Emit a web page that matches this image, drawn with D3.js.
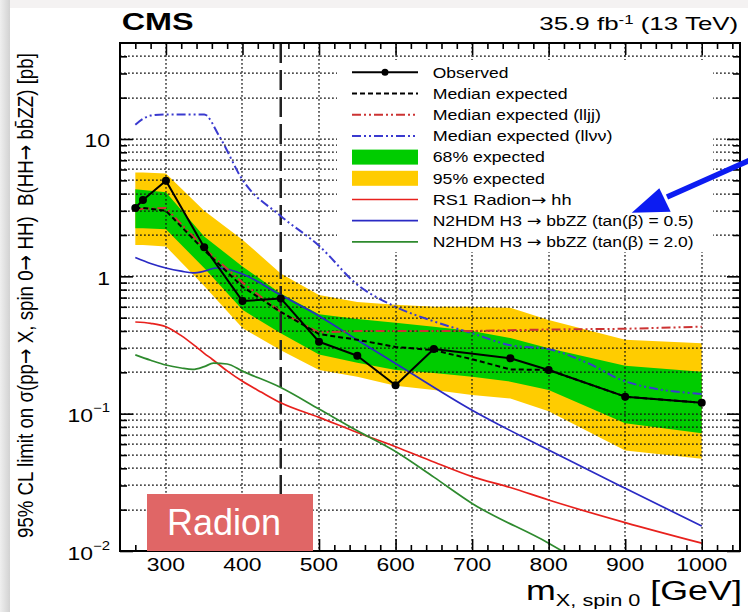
<!DOCTYPE html>
<html>
<head>
<meta charset="utf-8">
<script src="https://cdn.jsdelivr.net/npm/d3@7"></script>
<style>
  html, body { margin: 0; padding: 0; background: #fff; }
  svg { display: block; font-family: "Liberation Sans", Arial, Helvetica, sans-serif; }
  text { white-space: pre; }
</style>
</head>
<body>
<svg id="chart" width="748" height="612"></svg>
<script>
// ---------------- data ----------------
// Observed limit (pb) at each generated mass point
const massObs  = [260, 270, 300, 350, 400, 450, 500, 550, 600, 650, 750, 800, 900, 1000];
const observed = [3.15, 3.6, 4.97, 1.63, 0.66, 0.69, 0.334, 0.264, 0.161, 0.296, 0.253, 0.208, 0.133, 0.120];

// Expected limit and its 68% / 95% bands
const massExp   = [260, 270, 300, 350, 400, 450, 500, 550, 600, 650, 700, 750, 800, 900, 1000];
const expMedian = [3.15, 3.15, 3.0, 1.55, 0.84, 0.55, 0.38, 0.345, 0.306, 0.29, 0.249, 0.21, 0.208, 0.133, 0.12];
const exp95Up   = [5.7, 5.7, 5.6, 3.0, 1.85, 1.05, 0.73, 0.65, 0.62, 0.60, 0.60, 0.59, 0.48, 0.345, 0.325];
const exp68Up   = [4.3, 4.25, 4.1, 1.95, 1.18, 0.75, 0.53, 0.49, 0.46, 0.43, 0.40, 0.355, 0.30, 0.223, 0.202];
const exp68Down = [2.24, 2.24, 2.2, 1.15, 0.57, 0.385, 0.27, 0.235, 0.208, 0.198, 0.186, 0.171, 0.149, 0.085, 0.072];
const exp95Down = [1.69, 1.69, 1.65, 0.85, 0.42, 0.29, 0.208, 0.186, 0.16, 0.149, 0.137, 0.129, 0.104, 0.054, 0.047];
const expLljj   = [3.05, 3.1, 3.15, 1.6, 0.9, 0.55, 0.39, 0.40, 0.40, 0.40, 0.40, 0.405, 0.41, 0.415, 0.43];

// Expected limit of the llvv channel alone
const massLlvv = [260, 270, 280, 300, 350, 370, 400, 450, 500, 550, 600, 650, 700, 750, 800, 850, 900, 1000];
const expLlvv  = [12.7, 14.0, 14.8, 15.1, 15.1, 10.4, 5.05, 2.75, 1.67, 0.87, 0.60, 0.47, 0.385, 0.315, 0.295, 0.235, 0.172, 0.139];

// Theory predictions
const massRad    = [260, 280, 300, 320, 340, 350, 360, 380, 400, 425, 450, 500, 550, 600, 650, 700, 750, 800, 900, 1000];
const radionXsec = [0.465, 0.455, 0.43, 0.37, 0.305, 0.275, 0.25, 0.205, 0.172, 0.143, 0.12, 0.094, 0.073, 0.0575, 0.0445, 0.0348, 0.029, 0.0235, 0.0161, 0.0114];

const massTb05  = [260, 280, 300, 320, 335, 350, 365, 380, 400, 450, 500, 550, 600, 700, 800, 900, 1000];
const n2hdmTb05 = [1.37, 1.24, 1.15, 1.09, 1.06, 1.09, 1.15, 1.13, 1.04, 0.73, 0.515, 0.344, 0.232, 0.106, 0.0544, 0.0286, 0.0152];

const massTb20  = [260, 280, 300, 320, 335, 350, 362, 380, 400, 450, 500, 550, 600, 650, 700, 800, 850];
const n2hdmTb20 = [0.268, 0.245, 0.226, 0.215, 0.21, 0.22, 0.233, 0.23, 0.204, 0.155, 0.108, 0.075, 0.053, 0.0345, 0.0222, 0.0114, 0.0078];

// Boundary between the two analysis regimes
const regimeSplit = 450;

// Axis ticks and labels
const xMajorTicks = [300, 400, 500, 600, 700, 800, 900, 1000];
const xTickLabels = ["300", "400", "500", "600", "700", "800", "900", "1000"];
const yMajorTicks = [0.01, 0.1, 1, 10];
const yTickLabels = [["10", "\u22122"], ["10", "\u22121"], ["1"], ["10"]];

const legendLabels = [
  "Observed", "Median expected", "Median expected (lljj)", "Median expected (ll\u03bd\u03bd)",
  "68% expected", "95% expected", "RS1 Radion\u2192 hh",
  "N2HDM H3 \u2192 bbZZ (tan(\u03b2) = 0.5)", "N2HDM H3 \u2192 bbZZ (tan(\u03b2) = 2.0)"
];
const legendWidths = [75.7, 135, 168.3, 180, 112.3, 112.3, 139, 261.3, 261.3];

// ---------------- styles ----------------
const C = {
  yellow: "#ffcc00", green: "#00cc00",
  radion: "#e8211d", tb05: "#2a2ac4", tb20: "#2e8a2e",
  lljj: "#cc3333", llvv: "#3a3acf", arrow: "#0c1cf2", tag: "#e06666"
};
const DASH_MED = "5,3";
const DASH_DOTDOT = "9,3,2,3,2,3";
const ARROW_FONT = "DejaVu Sans";

// ---------------- setup ----------------
const W = 748, H = 612;
const P = { left: 120, top: 43, right: 740, bottom: 551 };
const svg = d3.select("#chart");

const x = d3.scaleLinear().domain([240, 1050]).range([P.left, P.right]);
const y = d3.scaleLog().domain([0.01, 50]).range([P.bottom, P.top]);

// Split a string so that arrows get a font with a long arrow glyph.
function arrowParts(str, extra) {
  const out = [];
  str.split("\u2192").forEach((s, i) => {
    if (i > 0) out.push(Object.assign({ t: "\u2192", font: ARROW_FONT }, extra || {}));
    if (s) out.push(Object.assign({ t: s }, extra || {}));
  });
  return out;
}

// Text helper: builds text from parts (with super/subscripts) and stretches
// it horizontally to a given width (or scale factor).
function richText(parent, parts, o) {
  const g = parent.append("g")
    .attr("transform", `translate(${o.x},${o.y})` + (o.rotate ? ` rotate(${o.rotate})` : ""));
  const t = g.append("text")
    .attr("font-size", o.size)
    .attr("font-weight", o.weight || "normal")
    .attr("fill", o.fill || "#000");
  let shift = 0;
  parts.forEach(p => {
    const ts = t.append("tspan").text(p.t);
    const target = p.sup ? -p.rise : (p.sub ? p.drop : 0);
    if (target !== shift) { ts.attr("dy", target - shift); shift = target; }
    if (p.size) ts.attr("font-size", p.size);
    if (p.font) ts.attr("font-family", p.font);
  });
  const w = t.node().getComputedTextLength();
  const sx = o.width ? o.width / w : (o.sx || 1);
  const total = w * sx;
  const off = o.anchor === "end" ? -total : (o.anchor === "middle" ? -total / 2 : 0);
  t.attr("transform", `translate(${off},0) scale(${sx},${o.sy || 1})`);
  return t;
}

// ---------------- page background ----------------
const defs = svg.append("defs");
const lg = defs.append("linearGradient").attr("id", "edge").attr("x1", 0).attr("x2", 1).attr("y1", 0).attr("y2", 0);
lg.append("stop").attr("offset", 0).attr("stop-color", "#efefef");
lg.append("stop").attr("offset", 1).attr("stop-color", "#d2d2d2");
defs.append("clipPath").attr("id", "plotClip").append("rect")
  .attr("x", P.left).attr("y", P.top).attr("width", P.right - P.left).attr("height", P.bottom - P.top);

svg.append("rect").attr("width", W).attr("height", H).attr("fill", "#f4f2f2");
svg.append("rect").attr("x", 0).attr("y", 0).attr("width", 10).attr("height", H).attr("fill", "url(#edge)");
svg.append("rect").attr("x", 10).attr("y", 8).attr("width", W - 10).attr("height", H - 8).attr("fill", "#fff");

// ---------------- plot body ----------------
const body = svg.append("g").attr("clip-path", "url(#plotClip)");

const bandRows = massExp.map((m, i) => ({
  m, lo95: exp95Down[i], hi95: exp95Up[i], lo68: exp68Down[i], hi68: exp68Up[i]
}));
body.append("path").datum(bandRows).attr("fill", C.yellow)
  .attr("d", d3.area().x(d => x(d.m)).y0(d => y(d.lo95)).y1(d => y(d.hi95)));
body.append("path").datum(bandRows).attr("fill", C.green)
  .attr("d", d3.area().x(d => x(d.m)).y0(d => y(d.lo68)).y1(d => y(d.hi68)));

// dotted grid
const yGrid = [];
[0.01, 0.1, 1, 10].forEach(dec => d3.range(1, 10).forEach(k => {
  const v = +(k * dec).toPrecision(3);
  if (v > 0.01 && v < 50) yGrid.push(v);
}));
const grid = body.append("g").attr("stroke", "#111").attr("stroke-width", 1.25)
  .attr("stroke-dasharray", "1.8,2.2");
grid.selectAll(".gh").data(yGrid).join("line")
  .attr("x1", P.left).attr("x2", P.right).attr("y1", d => Math.round(y(d))).attr("y2", d => Math.round(y(d)));
grid.selectAll(".gv").data(xMajorTicks).join("line")
  .attr("x1", d => Math.round(x(d))).attr("x2", d => Math.round(x(d))).attr("y1", P.top).attr("y2", P.bottom);

// legend backdrop
const LEG = { x0: 337, x1: 713, y0: 60, y1: 252, symL: 352, symR: 418, text: 432.7, row0: 72.3, step: 21.2 };
svg.append("rect").attr("x", LEG.x0).attr("y", LEG.y0)
  .attr("width", LEG.x1 - LEG.x0).attr("height", LEG.y1 - LEG.y0).attr("fill", "#fff");

// regime boundary
body.append("line").attr("x1", x(regimeSplit)).attr("x2", x(regimeSplit))
  .attr("y1", P.top).attr("y2", P.bottom)
  .attr("stroke", "#222").attr("stroke-width", 2.5).attr("stroke-dasharray", "20,7");

const curves = body.append("g").attr("fill", "none");
function drawCurve(ms, vs, color, width, dash, curve) {
  const pts = ms.map((m, i) => [x(m), y(vs[i])]);
  curves.append("path").attr("d", d3.line().curve(curve || d3.curveLinear)(pts))
    .attr("stroke", color).attr("stroke-width", width)
    .attr("stroke-dasharray", dash || null).attr("stroke-linejoin", "round");
}
drawCurve(massRad, radionXsec, C.radion, 1.7, null, d3.curveMonotoneX);
drawCurve(massTb20, n2hdmTb20, C.tb20, 1.7, null, d3.curveMonotoneX);
drawCurve(massTb05, n2hdmTb05, C.tb05, 1.7, null, d3.curveMonotoneX);
drawCurve(massLlvv, expLlvv, C.llvv, 2, DASH_DOTDOT, d3.curveMonotoneX);
drawCurve(massExp, expLljj, C.lljj, 2, DASH_DOTDOT);
drawCurve(massExp, expMedian, "#000", 2, DASH_MED);
drawCurve(massObs, observed, "#000", 2);
curves.selectAll("circle").data(massObs).join("circle")
  .attr("cx", d => x(d)).attr("cy", (d, i) => y(observed[i])).attr("r", 4).attr("fill", "#000");

// ---------------- frame and ticks ----------------
const xMinor = d3.range(260, 1050, 20).filter(v => v % 100 !== 0);
const yMinor = yGrid.filter(v => !yMajorTicks.includes(v));
const axes = svg.append("g");
function tickAxis(axisFn, scale, values, size, tx, ty) {
  const g = axes.append("g").attr("transform", `translate(${tx},${ty})`)
    .call(axisFn(scale).tickValues(values).tickSize(-size).tickFormat(""));
  g.select(".domain").remove();
  g.selectAll("line").attr("stroke", "#000").attr("stroke-width", 1.6);
}
tickAxis(d3.axisBottom, x, xMinor, 6, 0, P.bottom);
tickAxis(d3.axisBottom, x, xMajorTicks, 12, 0, P.bottom);
tickAxis(d3.axisTop, x, xMinor, 6, 0, P.top);
tickAxis(d3.axisTop, x, xMajorTicks, 12, 0, P.top);
tickAxis(d3.axisLeft, y, yMinor, 7, P.left, 0);
tickAxis(d3.axisLeft, y, yMajorTicks, 13, P.left, 0);
tickAxis(d3.axisRight, y, yMinor, 7, P.right, 0);
tickAxis(d3.axisRight, y, yMajorTicks, 13, P.right, 0);
axes.append("rect").attr("x", P.left).attr("y", P.top)
  .attr("width", P.right - P.left).attr("height", P.bottom - P.top)
  .attr("fill", "none").attr("stroke", "#000").attr("stroke-width", 2);

// tick labels
const labels = svg.append("g");
xMajorTicks.forEach((v, i) => {
  richText(labels, [{ t: xTickLabels[i] }], {
    x: x(v), y: 570.5, size: 18.5, anchor: "middle", sx: 1.24
  });
});
yMajorTicks.forEach((v, i) => {
  const [base, exp] = yTickLabels[i];
  const parts = [{ t: base }];
  if (exp) parts.push({ t: exp, sup: true, rise: 10, size: 12 });
  richText(labels, parts, { x: 110, y: y(v) + 8.5, size: 18.5, anchor: "end", sx: 1.24 });
});

// titles
richText(labels, [{ t: "CMS" }], { x: 121.7, y: 30, size: 23.5, weight: "bold", width: 72 });
richText(labels, [{ t: "35.9 fb" }, { t: "-1", sup: true, rise: 6, size: 12 }, { t: " (13 TeV)" }],
  { x: 738.3, y: 30, size: 18.5, anchor: "end", width: 199 });
richText(labels, [{ t: "m" }, { t: "X, spin 0", sub: true, drop: 6, size: 17 }, { t: " [GeV]", size: 28 }],
  { x: 742, y: 600, size: 28, anchor: "end", width: 216 });
richText(labels,
  arrowParts("95% CL limit on \u03c3(pp\u2192 X, spin 0\u2192 HH)  B(HH\u2192 bb\u0304ZZ) [pb]"),
  { x: 33, y: 538, size: 17.5, rotate: -90, width: 485, sy: 1.28 });

// ---------------- legend ----------------
const leg = svg.append("g");
legendLabels.forEach((lab, i) => {
  const cy = LEG.row0 + i * LEG.step;
  const line = (color, w, dash) => leg.append("line")
    .attr("x1", LEG.symL).attr("x2", LEG.symR).attr("y1", cy).attr("y2", cy)
    .attr("stroke", color).attr("stroke-width", w).attr("stroke-dasharray", dash || null);
  const box = color => leg.append("rect").attr("x", LEG.symL).attr("y", cy - 7.5)
    .attr("width", LEG.symR - LEG.symL).attr("height", 15).attr("fill", color);
  switch (i) {
    case 0: line("#000", 2); leg.append("circle").attr("cx", (LEG.symL + LEG.symR) / 2).attr("cy", cy).attr("r", 3.5); break;
    case 1: line("#000", 2, DASH_MED); break;
    case 2: line(C.lljj, 2, DASH_DOTDOT); break;
    case 3: line(C.llvv, 2, DASH_DOTDOT); break;
    case 4: box(C.green); break;
    case 5: box(C.yellow); break;
    case 6: line(C.radion, 1.7); break;
    case 7: line(C.tb05, 1.7); break;
    case 8: line(C.tb20, 1.7); break;
  }
  richText(leg, arrowParts(lab), { x: LEG.text, y: cy + 5.3, size: 15, width: legendWidths[i] });
});

// ---------------- annotations ----------------
const note = svg.append("g");
note.append("rect").attr("x", 147).attr("y", 494).attr("width", 166).attr("height", 57).attr("fill", C.tag);
note.append("text").attr("x", 167).attr("y", 535).attr("font-size", 36).attr("fill", "#fff").text("Radion");

const arrowTip = [631.7, 212.7];
note.append("line").attr("x1", 760).attr("y1", 155.7).attr("x2", 667).attr("y2", 197)
  .attr("stroke", C.arrow).attr("stroke-width", 5.5);
note.append("polygon")
  .attr("points", [arrowTip, [659.3, 188.3], [670.7, 211.7]].map(p => p.join(",")).join(" "))
  .attr("fill", C.arrow);
</script>
</body>
</html>
